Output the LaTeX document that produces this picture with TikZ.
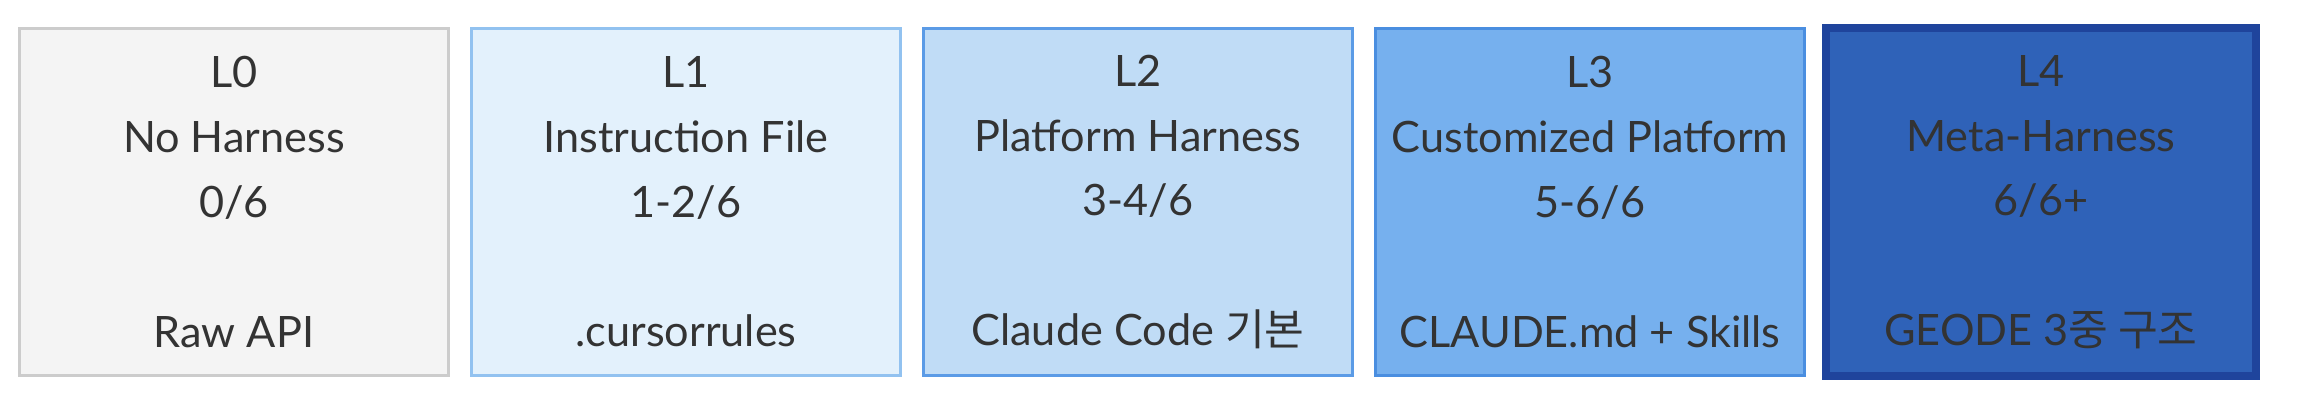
\documentclass[tikz,border=0pt]{standalone}
\usepackage{fontspec}
\setmainfont{Lato}
\newfontfamily\krfont{Noto Sans CJK KR}
\usetikzlibrary{positioning}
\definecolor{inkgray}{HTML}{333333}
\definecolor{l0fill}{HTML}{F4F4F4}
\definecolor{l0line}{HTML}{CCCCCC}
\definecolor{l1fill}{HTML}{E3F1FC}
\definecolor{l1line}{HTML}{92C2F0}
\definecolor{l2fill}{HTML}{C0DCF6}
\definecolor{l2line}{HTML}{5B9BE6}
\definecolor{l3fill}{HTML}{76B0EE}
\definecolor{l3line}{HTML}{4A8EE0}
\definecolor{l4fill}{HTML}{2F62B8}
\definecolor{l4line}{HTML}{1F449C}
\tikzset{
  level node/.style={
    rectangle,
    line width=0.03cm,
    minimum width=4.29cm,
    minimum height=3.47cm,
    inner sep=0pt,
    align=center,
    text=inkgray,
    font=\fontsize{12.3pt}{18.43pt}\selectfont,
  },
  l0 node/.style={level node, fill=l0fill, draw=l0line},
  l1 node/.style={level node, fill=l1fill, draw=l1line},
  l2 node/.style={level node, fill=l2fill, draw=l2line},
  l3 node/.style={level node, fill=l3fill, draw=l3line},
  l4 node/.style={
    level node,
    fill=l4fill,
    draw=l4line,
    line width=0.08cm,
    minimum width=4.30cm,
    minimum height=3.48cm,
  },
}

\begin{document}
\begin{tikzpicture}
  \useasboundingbox (0,0) rectangle (23.02,4.18);

  % --- Harness levels, left to right ---
  \node[l0 node] (l0) at (2.34,2.16)
    {L0\\No Harness\\0/6\\[18.43pt]Raw API};
  \node[l1 node, right=0.2cm of l0] (l1)
    {L1\\Instruction File\\1-2/6\\[18.43pt].cursorrules};
  \node[l2 node, right=0.2cm of l1] (l2)
    {L2\\Platform Harness\\3-4/6\\[18.43pt]Claude Code {\krfont 기본}};
  \node[l3 node, right=0.2cm of l2] (l3)
    {L3\\Customized Platform\\5-6/6\\[18.43pt]CLAUDE.md + Skills};
  \node[l4 node, right=0.16cm of l3] (l4)
    {L4\\Meta-Harness\\6/6+\\[18.43pt]GEODE 3{\krfont 중 구조}};

\end{tikzpicture}
\end{document}
